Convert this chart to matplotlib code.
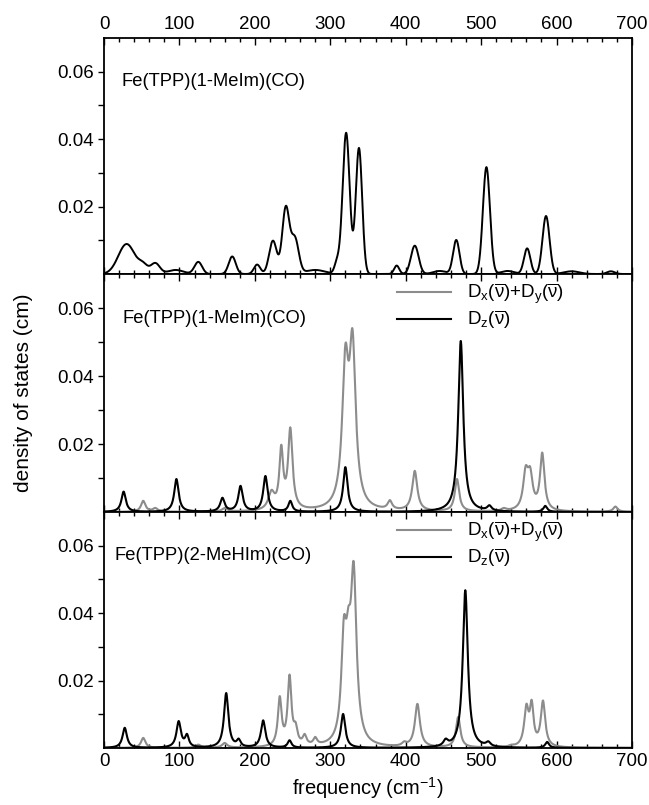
import numpy as np
import matplotlib
matplotlib.use("Agg")
import matplotlib.pyplot as plt
from matplotlib.ticker import MultipleLocator, FixedLocator

plt.rcParams["font.family"] = ["Liberation Sans", "DejaVu Sans"]
plt.rcParams["mathtext.fontset"] = "custom"
plt.rcParams["mathtext.rm"] = "Liberation Sans"
plt.rcParams["mathtext.it"] = "Liberation Sans"
plt.rcParams["mathtext.default"] = "regular"

# ---------------- data (peak tables) ----------------
# Panel 1: Fe(TPP)(1-MeIm)(CO), total DOS  (centre cm-1, height cm, half width cm-1)
top_centers = [30, 52, 68, 95, 125, 170, 203, 224, 241, 253, 280, 309, 321, 338, 388, 412,
               445, 467, 507, 535, 561, 586, 620, 672]
top_heights = [0.0089, 0.0036, 0.0033, 0.0012, 0.0036, 0.0052, 0.0028, 0.0099, 0.0202, 0.0113,
               0.0012, 0.0050, 0.0419, 0.0374, 0.0025, 0.0084, 0.0009, 0.0101, 0.0317, 0.0009,
               0.0076, 0.0172, 0.0008, 0.0008]
top_widths = [13, 7, 7, 12, 6, 5.5, 5, 6, 5.5, 6, 15, 4, 5.5, 5, 4, 6, 10, 5, 5.5, 10, 5, 5.5, 12, 6]

# Panel 2: Fe(TPP)(1-MeIm)(CO), Dz (black)
mid_z_centers = [26, 96, 157, 181, 214, 247, 320, 473, 511, 585]
mid_z_heights = [0.0060, 0.0097, 0.0042, 0.0077, 0.0106, 0.0033, 0.0132, 0.0503, 0.0020, 0.0018]
mid_z_widths = [3.5, 3.5, 3.5, 3.5, 3.5, 3, 3.5, 4, 3.5, 3]

# Panel 2: Dx+Dy (grey)
mid_xy_centers = [52, 68, 160, 222, 235, 247, 320, 329.5, 379, 412, 468, 530, 559, 565, 581, 678]
mid_xy_heights = [0.0033, 0.0012, 0.0012, 0.0065, 0.0198, 0.0249, 0.0494, 0.0538, 0.0035, 0.0121,
                  0.0097, 0.0012, 0.0136, 0.0133, 0.0175, 0.0016]
mid_xy_widths = [3.5, 4, 4, 5, 3, 3.5, 5, 5, 3.5, 4, 3.5, 4, 4, 4, 3.5, 3.5]

# Panel 3: Fe(TPP)(2-MeHIm)(CO), Dz (black)
bot_z_centers = [27.5, 99, 110, 162, 178.5, 211, 246, 317, 453, 479, 509.5, 587.5]
bot_z_heights = [0.0060, 0.0080, 0.0042, 0.0163, 0.0028, 0.0082, 0.0023, 0.0101, 0.0028, 0.0468, 0.0020, 0.0018]
bot_z_widths = [3.5, 3.5, 3, 3.5, 3, 3.5, 3, 3.5, 3.5, 4, 3.5, 3]

# Panel 3: Dx+Dy (grey)
bot_xy_centers = [52, 125, 160, 233, 246, 254, 266, 280, 318, 324, 331, 398, 415.5, 469.5, 540, 560, 567, 582]
bot_xy_heights = [0.0030, 0.0010, 0.0015, 0.0154, 0.0218, 0.0077, 0.0042, 0.0033, 0.0390, 0.0420, 0.0553,
                  0.0020, 0.0131, 0.0092, 0.0010, 0.0131, 0.0143, 0.0141]
bot_xy_widths = [3.5, 4, 4, 3, 3, 3, 3, 3, 4, 4, 4.5, 3.5, 4, 3.5, 4, 3.5, 3, 3.5]

panel_titles = ["Fe(TPP)(1-MeIm)(CO)", "Fe(TPP)(1-MeIm)(CO)", "Fe(TPP)(2-MeHIm)(CO)"]
legend_labels = [r"D$_x(\overline{\nu})$+D$_y(\overline{\nu})$", r"D$_z(\overline{\nu})$"]
x_ticks = [0, 100, 200, 300, 400, 500, 600, 700]
y_ticks = [0.02, 0.04, 0.06]

freq = np.linspace(0, 700, 3501)


def lorentz(x, c, w):
    return w ** 2 / ((x - c) ** 2 + w ** 2)


def gauss(x, c, w):
    s = w / 1.1774
    return np.exp(-0.5 * ((x - c) / s) ** 2)


def spectrum(centers, heights, widths, shape):
    c = np.asarray(centers, float)
    h = np.asarray(heights, float)
    w = np.asarray(widths, float)
    A = np.array([[shape(ci, cj, wj) for cj, wj in zip(c, w)] for ci in c])
    amps = np.linalg.solve(A, h)
    amps = np.clip(amps, 0, None)
    y = np.zeros_like(freq)
    for a, cj, wj in zip(amps, c, w):
        y += a * shape(freq, cj, wj)
    return y


top_total = spectrum(top_centers, top_heights, top_widths, gauss)
mid_z = spectrum(mid_z_centers, mid_z_heights, mid_z_widths, lorentz)
mid_xy = spectrum(mid_xy_centers, mid_xy_heights, mid_xy_widths, lorentz)
bot_z = spectrum(bot_z_centers, bot_z_heights, bot_z_widths, lorentz)
bot_xy = spectrum(bot_xy_centers, bot_xy_heights, bot_xy_widths, lorentz)

fig = plt.figure(figsize=(6.49, 8.05), dpi=100)
left, right = 104 / 649, 632 / 649
bounds = [(38, 274), (274, 512), (512, 748)]
axes = []
for (t, b) in bounds:
    ax = fig.add_axes([left, 1 - b / 805, right - left, (b - t) / 805])
    axes.append(ax)

grey = "#8c8c8c"
axes[0].plot(freq, top_total, color="black", lw=1.4)
axes[1].plot(freq, mid_xy, color=grey, lw=1.5, label=legend_labels[0])
axes[1].plot(freq, mid_z, color="black", lw=1.5, label=legend_labels[1])
axes[2].plot(freq, bot_xy, color=grey, lw=1.5, label=legend_labels[0])
axes[2].plot(freq, bot_z, color="black", lw=1.5, label=legend_labels[1])

title_x = [23.6, 25, 14]
for i, ax in enumerate(axes):
    ax.set_xlim(0, 700)
    ax.set_ylim(0, 0.07)
    ax.xaxis.set_major_locator(FixedLocator(x_ticks))
    ax.xaxis.set_minor_locator(MultipleLocator(20))
    ax.yaxis.set_major_locator(FixedLocator(y_ticks))
    ax.yaxis.set_minor_locator(FixedLocator([0.01, 0.03, 0.05]))
    ax.yaxis.set_major_formatter(plt.FuncFormatter(lambda v, p: f"{v:.2f}"))
    ax.tick_params(axis="x", which="both", direction="in", top=True, bottom=True,
                   labelsize=13.5, width=1.0)
    ax.tick_params(axis="x", which="major", length=5)
    ax.tick_params(axis="x", which="minor", length=3)
    ax.tick_params(axis="y", which="both", direction="out", left=True, right=False,
                   labelsize=13.5, width=1.0, length=4, pad=3)
    for sp in ax.spines.values():
        sp.set_linewidth(1.3)
    ax.text(title_x[i], 0.057, panel_titles[i], fontsize=13.2, va="center", ha="left")
    if i == 0:
        ax.tick_params(axis="x", labeltop=True, labelbottom=False)
    elif i == 1:
        ax.tick_params(axis="x", labeltop=False, labelbottom=False)
    else:
        ax.tick_params(axis="x", labeltop=False, labelbottom=True)
    if i > 0:
        ax.legend(loc="upper left", bbox_to_anchor=(0.554, 0.968), frameon=False,
                  fontsize=13.5, handlelength=2.9, handletextpad=0.85,
                  borderpad=0, borderaxespad=0, labelspacing=0.12)

axes[1].set_ylabel("density of states (cm)", fontsize=15, labelpad=18)
axes[2].set_xlabel(r"frequency (cm$^{-1}$)", fontsize=14.5, labelpad=4)

fig.savefig("out.png", dpi=100)
